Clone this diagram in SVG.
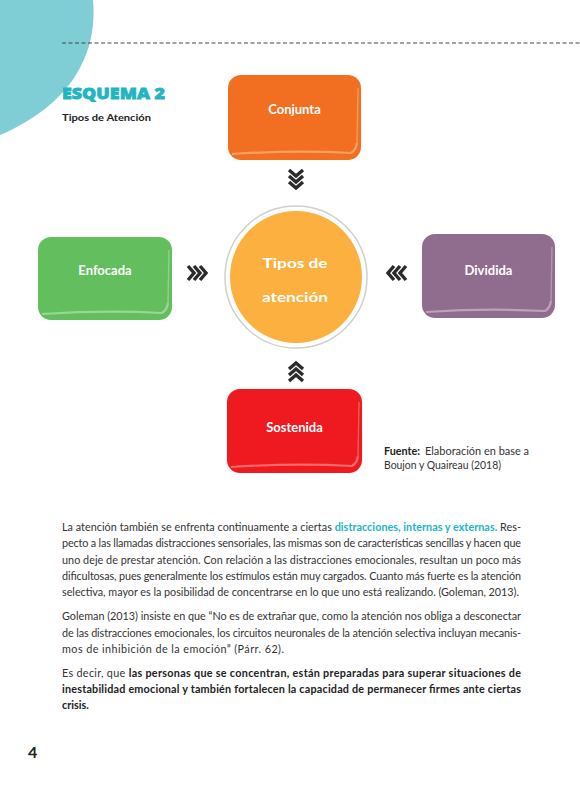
<svg xmlns="http://www.w3.org/2000/svg" width="580" height="794" viewBox="0 0 580 794">
<style>
.f{font-family:Lato,"Noto Sans","Liberation Sans",sans-serif}
.bt{font-family:Lato,"Noto Sans","Liberation Sans",sans-serif;font-weight:700;fill:#fff;font-size:13px;text-anchor:middle}
.body{font-family:Lato,"Noto Sans","Liberation Sans",sans-serif;font-size:10.8px;fill:#333}
.b{font-weight:700;fill:#222}
.chev{fill:none;stroke:#2b2b2b;stroke-width:3.4;stroke-linejoin:miter}
.band{fill:none;stroke-width:2.2}
.edge{fill:none;stroke-width:1.4;stroke-opacity:.8}
</style>
<rect width="580" height="794" fill="#fff"/>
<path d="M0,0 L93,0 C98,55 70,105 0,135 Z" fill="#7fcdd5"/>
<line x1="62" y1="43" x2="580" y2="43" stroke="#444" stroke-width="1" stroke-dasharray="4,2.5"/>
<text x="62" y="99" font-family="'Noto Sans',Lato,sans-serif" font-size="16.5" font-weight="900" fill="#22b5c1" stroke="#22b5c1" stroke-width="0.8" textLength="103" lengthAdjust="spacingAndGlyphs">ESQUEMA 2</text>
<text x="62" y="121" class="f" font-size="9.6" font-weight="700" fill="#222" textLength="89" lengthAdjust="spacingAndGlyphs">Tipos de Atención</text>

<g id="connectors">
<g transform="translate(296,170)">
<polyline class="chev" points="-7,0 0,6 7,0"/><polyline class="chev" points="-7,6 0,12 7,6"/><polyline class="chev" points="-7,12 0,18 7,12"/>
</g>
<g transform="translate(296,381)">
<polyline class="chev" points="-7,0 0,-6 7,0"/><polyline class="chev" points="-7,-6 0,-12 7,-6"/><polyline class="chev" points="-7,-12 0,-18 7,-12"/>
</g>
<g transform="translate(188,273)">
<polyline class="chev" points="0,-7 6,0 0,7"/><polyline class="chev" points="6,-7 12,0 6,7"/><polyline class="chev" points="12,-7 18,0 12,7"/>
</g>
<g transform="translate(406,273)">
<polyline class="chev" points="0,-7 -6,0 0,7"/><polyline class="chev" points="-6,-7 -12,0 -6,7"/><polyline class="chev" points="-12,-7 -18,0 -12,7"/>
</g>
</g>

<g id="conjunta">
<rect x="228" y="75" width="133" height="85" rx="13" fill="#f26f22"/>
<path class="band" stroke="#f8a065" d="M232,154 Q294,150 351,153 Q356,150 357,143"/>
<path class="edge" stroke="#f8a065" d="M358,88 L357,143"/>
<text x="294.5" y="114" class="bt">Conjunta</text>
</g>
<g id="enfocada">
<rect x="38" y="237" width="134" height="83" rx="13" fill="#63be5d"/>
<path class="band" stroke="#9ad694" d="M42,314 Q105,310 162,313 Q167,310 168,303"/>
<path class="edge" stroke="#9ad694" d="M169,250 L168,303"/>
<text x="105" y="275" class="bt">Enfocada</text>
</g>
<g id="dividida">
<rect x="422" y="234" width="133" height="84" rx="13" fill="#906c8f"/>
<path class="band" stroke="#bba2ba" d="M426,312 Q488,308 545,311 Q550,308 551,301"/>
<path class="edge" stroke="#bba2ba" d="M552,247 L551,301"/>
<text x="488.5" y="275" class="bt">Dividida</text>
</g>
<g id="sostenida">
<rect x="227" y="389" width="135" height="84" rx="13" fill="#ee1a1f"/>
<path class="band" stroke="#f56a6d" d="M231,467 Q294,463 352,466 Q357,463 358,456"/>
<path class="edge" stroke="#f56a6d" d="M359,402 L358,456"/>
<text x="294.5" y="432" class="bt">Sostenida</text>
</g>
<g id="center">
<circle cx="296" cy="277" r="71" fill="#fff" stroke="#cfcfcf" stroke-width="1.5"/>
<circle cx="296" cy="277" r="66" fill="#fbb040"/>
<text x="295" y="268" class="bt" font-size="17.5" textLength="65" lengthAdjust="spacingAndGlyphs">Tipos de</text>
<text x="295" y="302" class="bt" font-size="17.5" textLength="66" lengthAdjust="spacingAndGlyphs">atención</text>
</g>

<text x="384" y="455" class="body" font-size="10.5"><tspan class="b">Fuente:</tspan></text>
<text x="425" y="455" class="body" font-size="10.5" textLength="104" lengthAdjust="spacingAndGlyphs">Elaboración en base a</text>
<text x="384" y="469" class="body" font-size="10.5" textLength="117" lengthAdjust="spacingAndGlyphs">Boujon y Quaireau (2018)</text>

<text x="62" y="531" class="body" textLength="459" lengthAdjust="spacing">La atención también se enfrenta continuamente a ciertas <tspan font-weight="700" fill="#22b5c1">distracciones, internas y externas.</tspan> Res-</text>
<text x="62" y="547.3" class="body" textLength="459" lengthAdjust="spacing">pecto a las llamadas distracciones sensoriales, las mismas son de características sencillas y hacen que</text>
<text x="62" y="563.6" class="body" textLength="459" lengthAdjust="spacing">uno deje de prestar atención. Con relación a las distracciones emocionales, resultan un poco más</text>
<text x="62" y="579.9" class="body" textLength="459" lengthAdjust="spacing">dificultosas, pues generalmente los estímulos están muy cargados. Cuanto más fuerte es la atención</text>
<text x="62" y="596.2" class="body" textLength="457" lengthAdjust="spacing">selectiva, mayor es la posibilidad de concentrarse en lo que uno está realizando. (Goleman, 2013).</text>

<text x="62" y="620.2" class="body" textLength="459" lengthAdjust="spacing">Goleman (2013) insiste en que “No es de extrañar que, como la atención nos obliga a desconectar</text>
<text x="62" y="636.5" class="body" textLength="459" lengthAdjust="spacing">de las distracciones emocionales, los circuitos neuronales de la atención selectiva incluyan mecanis-</text>
<text x="62" y="652.8" class="body" textLength="222" lengthAdjust="spacing">mos de inhibición de la emoción” (Párr. 62).</text>

<text x="62" y="676.8" class="body" textLength="459" lengthAdjust="spacing">Es decir, que <tspan class="b">las personas que se concentran, están preparadas para superar situaciones de</tspan></text>
<text x="62" y="693.1" class="body b" textLength="459" lengthAdjust="spacing">inestabilidad emocional y también fortalecen la capacidad de permanecer firmes ante ciertas</text>
<text x="62" y="709.4" class="body b">crisis.</text>

<text x="28" y="758" class="f" font-size="16" font-weight="700" fill="#222">4</text>
</svg>
